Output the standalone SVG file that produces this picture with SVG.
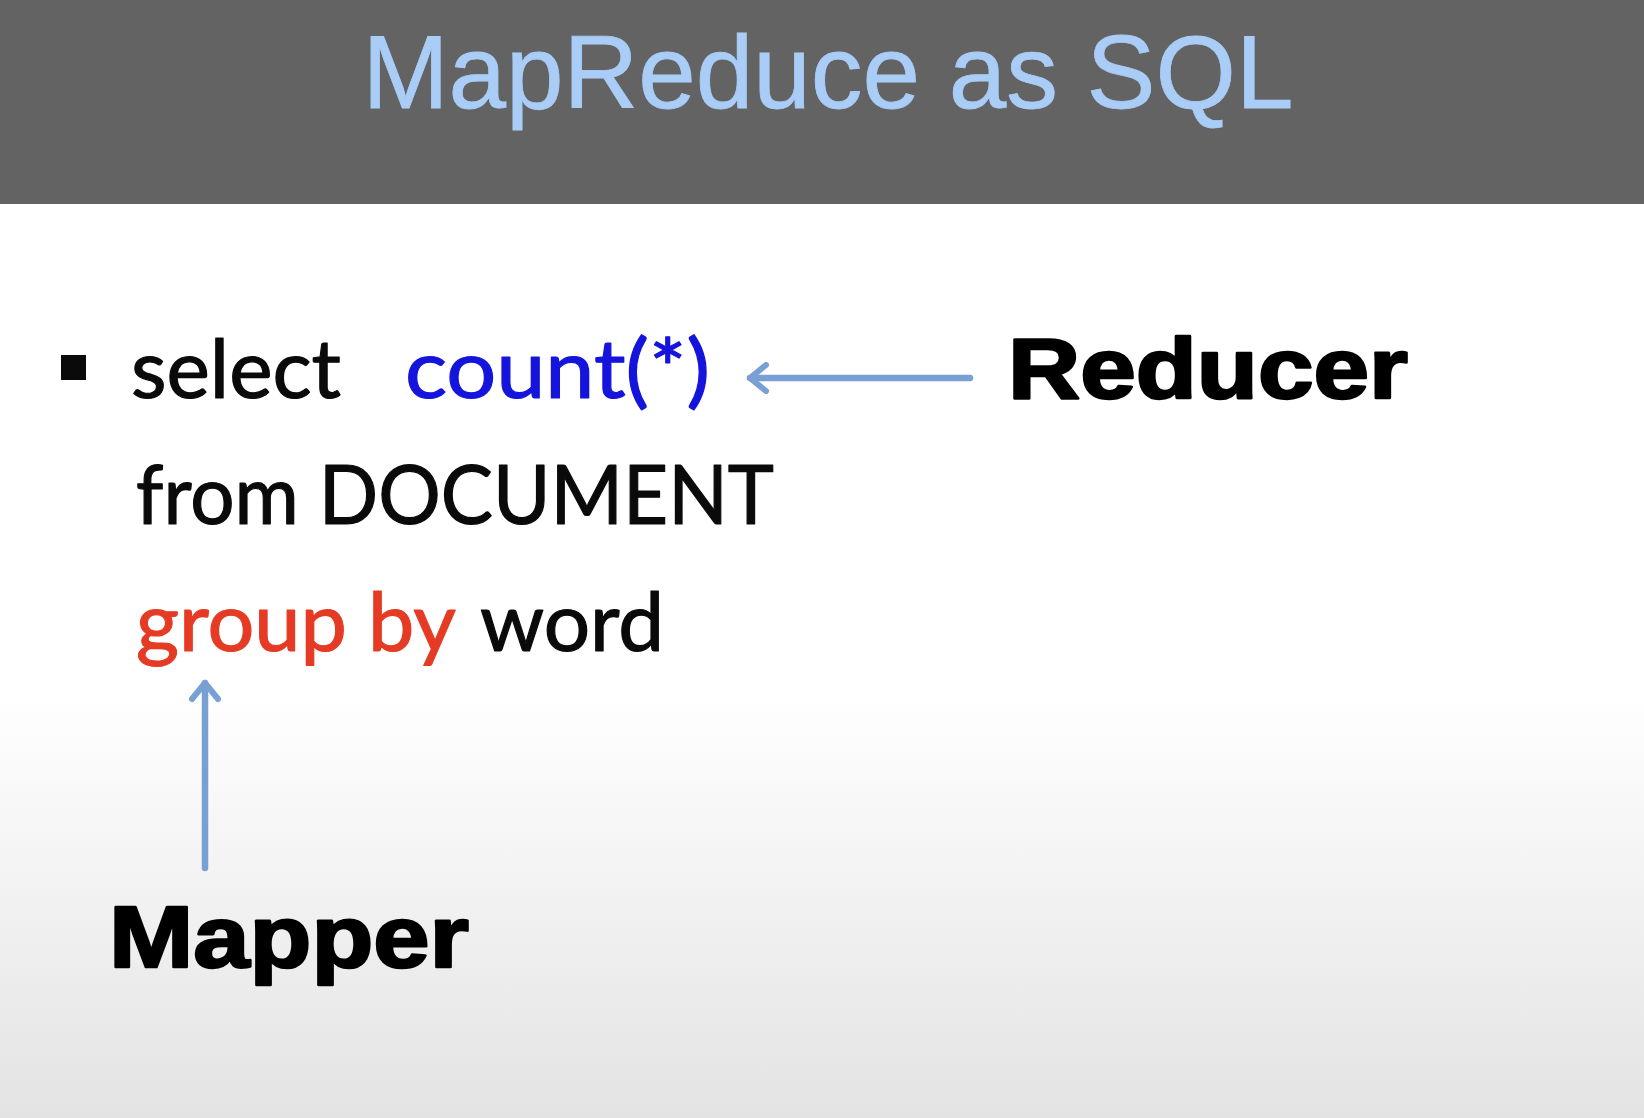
<svg xmlns="http://www.w3.org/2000/svg" width="1644" height="1118" viewBox="0 0 1644 1118">
<defs>
<linearGradient id="bg" x1="0" y1="0" x2="0" y2="1">
<stop offset="0" stop-color="#ffffff"/>
<stop offset="0.62" stop-color="#ffffff"/>
<stop offset="1" stop-color="#e3e3e3"/>
</linearGradient>
<marker id="chev" viewBox="0 0 26 32" refX="21" refY="16" markerWidth="26" markerHeight="32" markerUnits="userSpaceOnUse" orient="auto">
<path d="M5 3 L21 16 L5 29" fill="none" stroke="#79a0d3" stroke-width="6" stroke-linecap="round" stroke-linejoin="round"/>
</marker>
<style>
.body{font-family:Lato,"Open Sans","Noto Sans",sans-serif;font-size:81px;stroke-width:1.2;stroke-linejoin:round}
.blk{fill:#0a0a0a;stroke:#0a0a0a}
.blue{fill:#1414dc;stroke:#1414dc}
.red{fill:#e53b24;stroke:#e53b24}
.lbl{font-family:"Liberation Sans",Arial,sans-serif;font-weight:bold;fill:#000;stroke:#000;stroke-width:2.5;stroke-linejoin:round}
.conn{stroke:#79a0d3;stroke-width:6.5;fill:none;stroke-linecap:round}
</style>
</defs>
<rect x="0" y="0" width="1644" height="1118" fill="url(#bg)"/>
<g id="titlebar">
<rect x="0" y="0" width="1644" height="204" fill="#636363"/>
<text x="828" y="108" text-anchor="middle" font-family="Liberation Sans,Arial,sans-serif" font-size="103" fill="#a9cdf6" stroke="#a9cdf6" stroke-width="0.8" textLength="931" lengthAdjust="spacingAndGlyphs">MapReduce as SQL</text>
</g>
<g id="query">
<rect x="61" y="355" width="25" height="25" fill="#0a0a0a"/>
<text class="body blk" x="131" y="398" textLength="210" lengthAdjust="spacingAndGlyphs">select</text>
<text class="body blue" x="405" y="398" textLength="305" lengthAdjust="spacingAndGlyphs">count(*)</text>
<text class="body blk" x="136" y="524" textLength="638" lengthAdjust="spacingAndGlyphs">from DOCUMENT</text>
<text class="body red" x="136" y="651" textLength="320" lengthAdjust="spacingAndGlyphs">group by</text>
<text class="body blk" x="480" y="651" textLength="184" lengthAdjust="spacingAndGlyphs">word</text>
</g>
<g id="reducer">
<text class="lbl" x="1008" y="398" font-size="86" textLength="400" lengthAdjust="spacingAndGlyphs">Reducer</text>
</g>
<g id="mapper">
<text class="lbl" x="109" y="967" font-size="88" textLength="360" lengthAdjust="spacingAndGlyphs">Mapper</text>
</g>
<g id="connectors">
<line class="conn" x1="970" y1="378" x2="750" y2="378" marker-end="url(#chev)"/>
<line class="conn" x1="205" y1="868" x2="205" y2="683" marker-end="url(#chev)"/>
</g>
</svg>
